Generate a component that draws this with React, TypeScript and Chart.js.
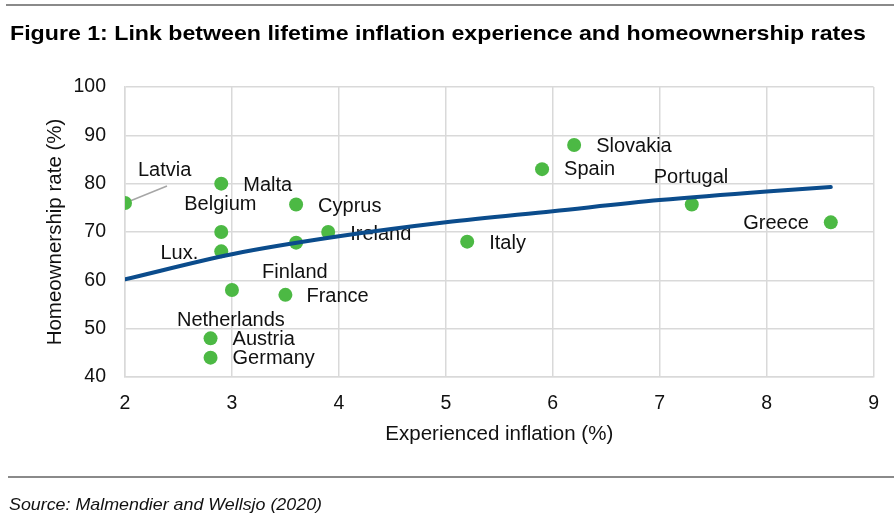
import React, { useEffect, useRef } from "react";
import { Chart, registerables } from "chart.js";

Chart.register(...registerables);

const countries = ["Latvia", "Malta", "Belgium", "Lux.", "Cyprus", "Finland", "Ireland", "Netherlands", "France", "Austria", "Germany", "Italy", "Spain", "Slovakia", "Portugal", "Greece"];
const inflation = [2.0, 2.9, 2.9, 2.9, 3.6, 3.6, 3.9, 3.0, 3.5, 2.8, 2.8, 5.2, 5.9, 6.2, 7.3, 8.6];
const ownership = [76, 80, 70, 66, 75.7, 67.8, 70, 58, 57, 48, 44, 68, 83, 88, 75.7, 72];

const trendX = [2, 3, 4, 5, 6, 7, 8, 8.6];
const trendY = [60.2, 65.4, 69.1, 72.0, 74.3, 76.6, 78.4, 79.3];

const xTicks = [2, 3, 4, 5, 6, 7, 8, 9];
const yTicks = [40, 50, 60, 70, 80, 90, 100];

const TITLE = "Figure 1: Link between lifetime inflation experience and homeownership rates";
const SOURCE = "Source: Malmendier and Wellsjo (2020)";
const X_TITLE = "Experienced inflation (%)";
const Y_TITLE = "Homeownership rate (%)";

// label placement (pixels relative to the point): dx, dy, align
const labelPlacement: [number, number, CanvasTextAlign][] = [
  [13, -33, "left"],
  [22, 2, "left"],
  [-37, -28, "left"],
  [-23, 2, "right"],
  [22, 2, "left"],
  [-34, 30, "left"],
  [22, 2, "left"],
  [-55, 30, "left"],
  [21, 2, "left"],
  [22, 1, "left"],
  [22, 1, "left"],
  [22, 2, "left"],
  [22, 0, "left"],
  [22, 1, "left"],
  [-38, -27, "left"],
  [-22, 1, "right"],
];

const FONT = "'Liberation Sans', Arial, sans-serif";

function fitText(ctx: CanvasRenderingContext2D, text: string, x: number, y: number, width: number) {
  const w = ctx.measureText(text).width;
  const sx = width / w;
  ctx.save();
  ctx.translate(x, y);
  ctx.scale(sx, 1);
  ctx.fillText(text, 0, 0);
  ctx.restore();
}

const labelsPlugin = {
  id: "pointLabels",
  beforeDatasetsDraw(chart: any) {
    const ctx = chart.ctx;
    const xs = chart.scales.x;
    const ys = chart.scales.y;
    ctx.save();
    ctx.font = `20px ${FONT}`;
    ctx.fillStyle = "#111";
    ctx.textBaseline = "middle";
    countries.forEach((name, i) => {
      const px = xs.getPixelForValue(inflation[i]);
      const py = ys.getPixelForValue(ownership[i]);
      const [dx, dy, align] = labelPlacement[i];
      ctx.textAlign = align;
      ctx.fillText(name, px + dx, py + dy);
      if (i === 0) {
        ctx.strokeStyle = "#a6a6a6";
        ctx.lineWidth = 1.5;
        ctx.beginPath();
        ctx.moveTo(px + 5, py - 2);
        ctx.lineTo(px + 42, py - 17);
        ctx.stroke();
      }
    });
    ctx.restore();
  },
};

const framePlugin = {
  id: "frame",
  beforeDraw(chart: any) {
    const ctx = chart.ctx;
    ctx.save();
    ctx.fillStyle = "#fff";
    ctx.fillRect(0, 0, chart.width, chart.height);
    ctx.restore();
  },
  afterDraw(chart: any) {
    const ctx = chart.ctx;
    ctx.save();
    ctx.fillStyle = "#8a8a8a";
    ctx.fillRect(6, 4, chart.width - 6, 2);
    ctx.fillRect(8, 476, chart.width - 8, 2);
    ctx.fillStyle = "#000";
    ctx.textBaseline = "alphabetic";
    ctx.textAlign = "left";
    ctx.font = `bold 21px ${FONT}`;
    fitText(ctx, TITLE, 10, 40, 856);
    ctx.font = `italic 17px ${FONT}`;
    ctx.fillStyle = "#111";
    fitText(ctx, SOURCE, 9, 510, 313);
    ctx.restore();
  },
};

export default function App() {
  const ref = useRef<HTMLCanvasElement>(null);
  useEffect(() => {
    const canvas = ref.current;
    if (!canvas) return;
    const chart = new Chart(canvas, {
      type: "scatter",
      data: {
        datasets: [
          {
            label: "Trend",
            data: trendX.map((x, i) => ({ x, y: trendY[i] })),
            showLine: true,
            borderColor: "#0b4c8c",
            borderWidth: 4,
            pointRadius: 0,
            cubicInterpolationMode: "monotone",
            borderCapStyle: "round",
          } as any,
          {
            label: "Countries",
            data: inflation.map((x, i) => ({ x, y: ownership[i] })),
            backgroundColor: "#4cb944",
            borderWidth: 0,
            pointRadius: 7,
          },
        ],
      },
      options: {
        animation: false,
        responsive: false,
        layout: { padding: { left: 30, top: 87, right: 19, bottom: 63 } },
        plugins: { legend: { display: false }, tooltip: { enabled: false } },
        scales: {
          x: {
            type: "linear",
            min: 2,
            max: 9,
            afterFit: (s: any) => { s.height = 80; },
            afterBuildTicks: (s: any) => { s.ticks = xTicks.map((v) => ({ value: v })); },
            grid: { color: "#d9d9d9", lineWidth: 1.5, drawTicks: false },
            border: { color: "#d9d9d9", width: 1.5 },
            ticks: { padding: 15, color: "#111", font: { family: FONT, size: 19.5 } },
            title: { display: true, text: X_TITLE, color: "#111", font: { family: FONT, size: 20.5 }, padding: { top: 0, bottom: 10 } },
          },
          y: {
            type: "linear",
            min: 40,
            max: 100,
            afterFit: (s: any) => { s.width = 95; },
            afterBuildTicks: (s: any) => { s.ticks = yTicks.map((v) => ({ value: v })); },
            grid: { color: "#d9d9d9", lineWidth: 1.5, drawTicks: false },
            border: { color: "#d9d9d9", width: 1.5 },
            ticks: { padding: 19, color: "#111", font: { family: FONT, size: 19.5 } },
            title: { display: true, text: Y_TITLE, color: "#111", font: { family: FONT, size: 20.5 }, padding: { top: 13, bottom: 0 } },
          },
        },
      },
      plugins: [framePlugin, labelsPlugin],
    });
    return () => chart.destroy();
  }, []);
  return (
    <div style={{ position: "absolute", left: 0, top: 0, width: 894, height: 520, background: "#fff" }}>
      <canvas ref={ref} width={894} height={520} />
    </div>
  );
}
